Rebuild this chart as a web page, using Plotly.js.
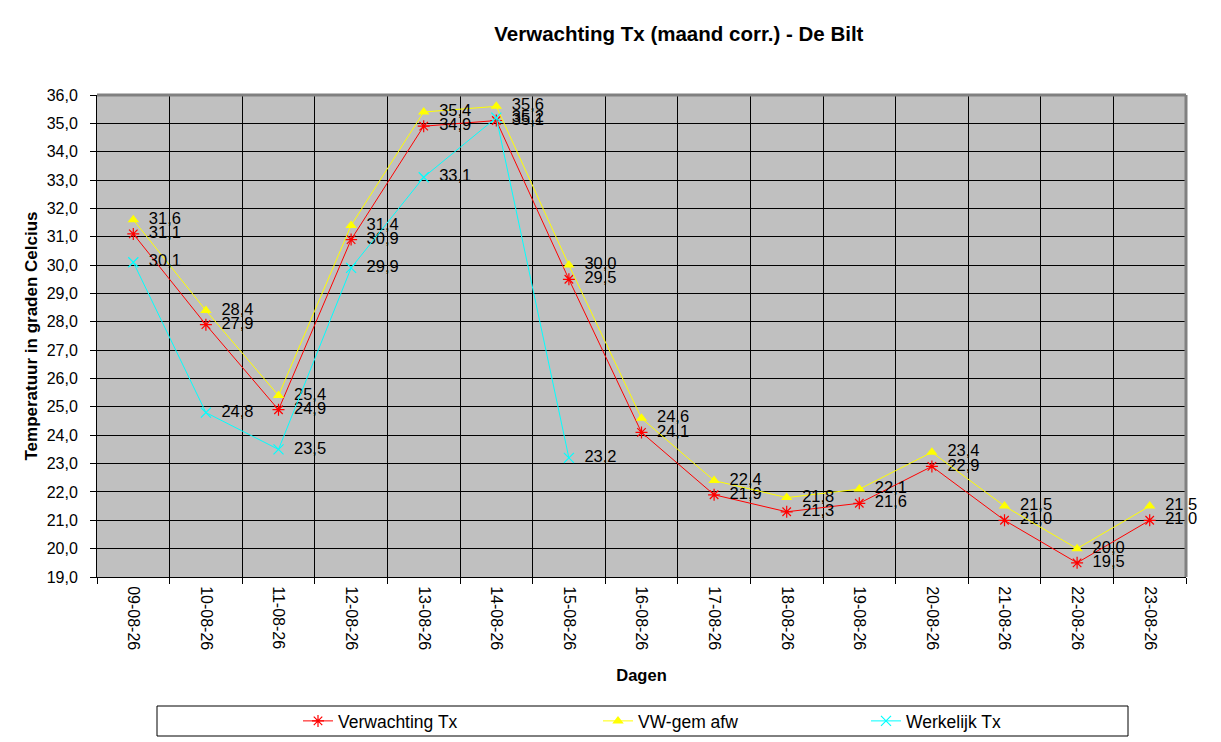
<!DOCTYPE html>
<html>
<head>
<meta charset="utf-8">
<script src="https://cdn.plot.ly/plotly-3.0.1.min.js"></script>
<style>
  html, body { margin: 0; padding: 0; background: #fff; }
  #plot { width: 1221px; height: 742px; }
</style>
</head>
<body>
<div id="plot"></div>
<script>
var dagen = ["09-08-26", "10-08-26", "11-08-26", "12-08-26", "13-08-26", "14-08-26", "15-08-26",
  "16-08-26", "17-08-26", "18-08-26", "19-08-26", "20-08-26", "21-08-26", "22-08-26", "23-08-26"];
var verwachting = [31.1, 27.9, 24.9, 30.9, 34.9, 35.1, 29.5, 24.1, 21.9, 21.3, 21.6, 22.9, 21.0, 19.5, 21.0];
var vwGem = [31.6, 28.4, 25.4, 31.4, 35.4, 35.6, 30.0, 24.6, 22.4, 21.8, 22.1, 23.4, 21.5, 20.0, 21.5];
var werkelijk = [30.1, 24.8, 23.5, 29.9, 33.1, 35.2, 23.2];

// labels with a little lead space, decimal comma like the original
function labels(arr) {
  return arr.map(function (v) { return "\u2002" + v.toFixed(1).replace(".", ","); });
}

var labelFont = { family: "Liberation Sans, Arial, sans-serif", size: 16.5, color: "#000" };

var trace1 = {
  x: dagen, y: verwachting, name: "Verwachting Tx", legend: "legend",
  type: "scatter", mode: "lines+markers+text",
  text: labels(verwachting), textposition: "middle right", textfont: labelFont,
  line: { color: "#ff0000", width: 1 },
  marker: { symbol: "asterisk-open", size: 10, color: "#ff0000", line: { color: "#ff0000", width: 1.2 } },
  cliponaxis: false
};
var trace2 = {
  x: dagen, y: vwGem, name: "VW-gem afw", legend: "legend2",
  type: "scatter", mode: "lines+markers+text",
  text: labels(vwGem), textposition: "middle right", textfont: labelFont,
  line: { color: "#ffff00", width: 1 },
  marker: { symbol: "triangle-up", size: 10, color: "#ffff00" },
  cliponaxis: false
};
var trace3 = {
  x: dagen.slice(0, werkelijk.length), y: werkelijk, name: "Werkelijk Tx", legend: "legend3",
  type: "scatter", mode: "lines+markers+text",
  text: labels(werkelijk), textposition: "middle right", textfont: labelFont,
  line: { color: "#00ffff", width: 1 },
  marker: { symbol: "x-thin-open", size: 10, color: "#00ffff", line: { color: "#00ffff", width: 1.2 } },
  cliponaxis: false
};

// one small legend per series so each entry sits where the original has it
function legendAt(px) {
  return {
    orientation: "h",
    x: (px - 97) / 1089, xanchor: "left",
    y: (577 - 721) / 482, yanchor: "middle",
    borderwidth: 0,
    bgcolor: "rgba(0,0,0,0)",
    font: { family: "Liberation Sans Narrow, Liberation Sans, Arial, sans-serif", size: 17.5 },
    itemwidth: 30
  };
}

var layout = {
  width: 1221, height: 742,
  margin: { l: 97, r: 35, t: 95, b: 165, autoexpand: false },
  paper_bgcolor: "#ffffff",
  plot_bgcolor: "#c0c0c0",
  separators: ",.",
  font: { family: "Liberation Sans, Arial, sans-serif", color: "#000" },
  title: {
    text: "<b>Verwachting Tx (maand corr.) - De Bilt</b>",
    font: { size: 20.5, color: "#000" },
    x: 0.556, xref: "container", xanchor: "center",
    y: 0.955, yref: "container", yanchor: "middle"
  },
  xaxis: {
    type: "category",
    tickson: "boundaries",
    ticks: "outside", ticklen: 6, tickcolor: "#000",
    tickangle: 90,
    tickfont: { size: 16 },
    ticklabelstandoff: 5,
    showgrid: true, gridcolor: "#000", gridwidth: 1,
    showline: true, linecolor: "#000", linewidth: 1,
    range: [-0.5, 14.5],
    automargin: false,
    title: { text: "<b>Dagen</b>", font: { size: 16.5 }, standoff: 20 },
    zeroline: false
  },
  yaxis: {
    range: [19, 36],
    dtick: 1, tick0: 19,
    tickformat: ".1f",
    ticks: "outside", ticklen: 6, tickcolor: "#000",
    tickfont: { size: 16 },
    ticklabelstandoff: 9,
    showgrid: true, gridcolor: "#000", gridwidth: 1,
    showline: true, linecolor: "#000", linewidth: 1,
    automargin: false,
    title: { text: "<b>Temperatuur in graden Celcius</b>", font: { size: 17 }, standoff: 4 },
    zeroline: false
  },
  shapes: [
    { type: "line", xref: "paper", yref: "paper", x0: 0, x1: 1, y0: 1, y1: 1, line: { color: "#808080", width: 3 } },
    { type: "line", xref: "paper", yref: "paper", x0: 1, x1: 1, y0: 0, y1: 1, line: { color: "#808080", width: 3 } },
    // legend frame
    { type: "rect", xref: "paper", yref: "paper",
      x0: (157 - 97) / 1089, x1: (1128 - 97) / 1089,
      y0: (577 - 736) / 482, y1: (577 - 706) / 482,
      line: { color: "#000", width: 1 }, fillcolor: "rgba(0,0,0,0)" }
  ],
  showlegend: true,
  legend: legendAt(298),
  legend2: legendAt(598),
  legend3: legendAt(866)
};

Plotly.newPlot("plot", [trace1, trace2, trace3], layout, { displayModeBar: false, responsive: false });
</script>
</body>
</html>
